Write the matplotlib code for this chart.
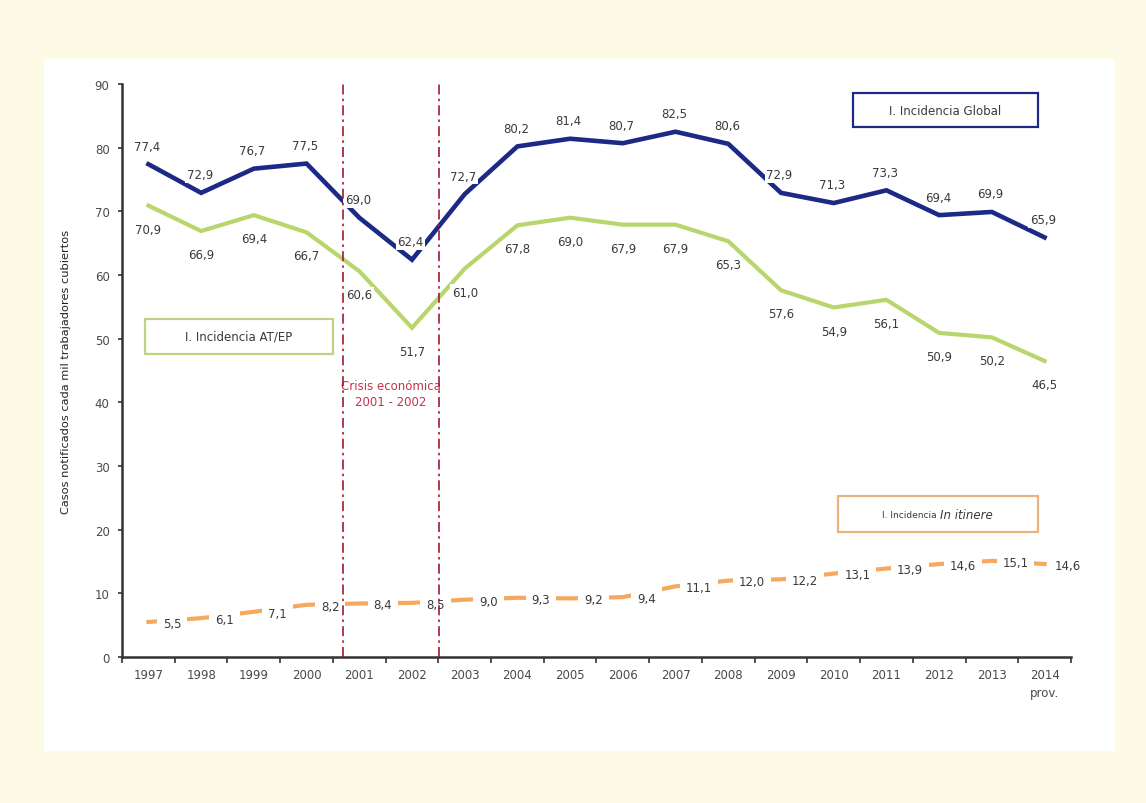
import matplotlib
matplotlib.use("Agg")
import matplotlib.pyplot as plt
import numpy as np
from matplotlib.patches import Rectangle

years = ['1997', '1998', '1999', '2000', '2001', '2002', '2003', '2004', '2005',
         '2006', '2007', '2008', '2009', '2010', '2011', '2012', '2013', '2014\nprov.']
inc_global = [77.4, 72.9, 76.7, 77.5, 69.0, 62.4, 72.7, 80.2, 81.4,
              80.7, 82.5, 80.6, 72.9, 71.3, 73.3, 69.4, 69.9, 65.9]
inc_atep = [70.9, 66.9, 69.4, 66.7, 60.6, 51.7, 61.0, 67.8, 69.0,
            67.9, 67.9, 65.3, 57.6, 54.9, 56.1, 50.9, 50.2, 46.5]
inc_itinere = [5.5, 6.1, 7.1, 8.2, 8.4, 8.5, 9.0, 9.3, 9.2,
               9.4, 11.1, 12.0, 12.2, 13.1, 13.9, 14.6, 15.1, 14.6]
crisis_bounds = [3.69, 5.52]

c_global = '#1c2a86'
c_atep = '#b9d66c'
c_itin = '#f5a95e'
c_crisis = '#9e1b2e'
c_text = '#3a3a3a'

plt.rcParams['font.family'] = ['DejaVu Sans']

fig = plt.figure(figsize=(11.46, 8.04), dpi=100, facecolor='#fdfae5')
# white panel behind the chart
fig.add_artist(Rectangle((0.0384, 0.065), 0.9346, 0.86, transform=fig.transFigure,
                         facecolor='white', edgecolor='none', zorder=-10))

ax = fig.add_axes([0.1065, 0.1816, 0.828, 0.7127])
ax.set_facecolor('none')
x = np.arange(len(years))


def fmt(v):
    return f'{v:.1f}'.replace('.', ',')


ax.plot(x, inc_global, color=c_global, lw=3.3, solid_joinstyle='miter', zorder=2)
ax.plot(x, inc_atep, color=c_atep, lw=3.0, solid_joinstyle='miter', zorder=2)
ax.plot(x, inc_itinere, color=c_itin, lw=3.0, zorder=2)

for xi, v in zip(x, inc_global):
    ax.annotate(fmt(v), (xi, v), xytext=(-1, 13), textcoords='offset points',
                ha='center', va='center', fontsize=8.5, color=c_text, zorder=3,
                bbox=dict(boxstyle='square,pad=0.15', fc='white', ec='none'))
for xi, v in zip(x, inc_atep):
    ax.annotate(fmt(v), (xi, v), xytext=(0, -17), textcoords='offset points',
                ha='center', va='center', fontsize=8.5, color=c_text, zorder=3,
                bbox=dict(boxstyle='square,pad=0.15', fc='white', ec='none'))
for xi, v in zip(x, inc_itinere):
    ax.annotate(fmt(v), (xi, v), xytext=(17, -1), textcoords='offset points',
                ha='center', va='center', fontsize=8.5, color=c_text, zorder=3,
                bbox=dict(boxstyle='square,pad=0.5', fc='white', ec='none'))

# crisis period markers
for xb in crisis_bounds:
    ax.plot([xb, xb], [0, 90], color=c_crisis, lw=1.2,
            linestyle=(0, (6, 2.5, 1.5, 2.5)), zorder=4)
ax.text(np.mean(crisis_bounds), 41.4, 'Crisis económica\n2001 - 2002', ha='center',
        va='center', fontsize=8.5, color='#c4344a', linespacing=1.35, zorder=3)

# text boxes naming each series
def label_box(x0, y0, x1, y1, edge):
    ax.add_patch(Rectangle((x0, y0), x1 - x0, y1 - y0, transform=ax.transAxes,
                           facecolor='white', edgecolor=edge, lw=1.6, zorder=3,
                           clip_on=False))

label_box(0.770, 0.925, 0.965, 0.984, c_global)
ax.text(0.8675, 0.9545, 'I. Incidencia Global', transform=ax.transAxes, ha='center',
        va='center', fontsize=8.5, color=c_text, zorder=4)
label_box(0.024, 0.529, 0.222, 0.590, '#bcd384')
ax.text(0.123, 0.5595, 'I. Incidencia AT/EP', transform=ax.transAxes, ha='center',
        va='center', fontsize=8.5, color=c_text, zorder=4)
label_box(0.754, 0.218, 0.965, 0.281, '#eab37e')
ax.text(0.862, 0.2495, 'I. Incidencia ', transform=ax.transAxes, ha='right',
        va='center', fontsize=6.5, color=c_text, zorder=4)
ax.text(0.862, 0.2495, 'In itinere', transform=ax.transAxes, ha='left',
        va='center', fontsize=8.5, style='italic', color=c_text, zorder=4)

ax.set_xlim(-0.5, len(years) - 0.5)
ax.set_ylim(0, 90)
ax.set_yticks(np.arange(0, 91, 10))
ax.set_xticks(np.arange(-0.5, len(years), 1))
ax.set_xticklabels([])
ax.set_xticks(x, minor=True)
ax.set_xticklabels(years, minor=True, linespacing=1.45)
ax.tick_params(axis='x', which='major', direction='out', length=4, width=1.2, color='#333333')
ax.tick_params(axis='x', which='minor', length=0, pad=8, labelsize=8.5, labelcolor='#4a4a4a')
ax.tick_params(axis='y', direction='out', length=3, width=1.2, color='#333333',
               pad=6, labelsize=8.5, labelcolor='#4a4a4a')
for side in ['top', 'right']:
    ax.spines[side].set_visible(False)
for side in ['left', 'bottom']:
    ax.spines[side].set_color('#333333')
    ax.spines[side].set_linewidth(1.8)

ax.set_ylabel('Casos notificados cada mil trabajadores cubiertos', fontsize=8.2,
              color='#222222', labelpad=17)

fig.savefig('out.png', dpi=100, facecolor=fig.get_facecolor())
